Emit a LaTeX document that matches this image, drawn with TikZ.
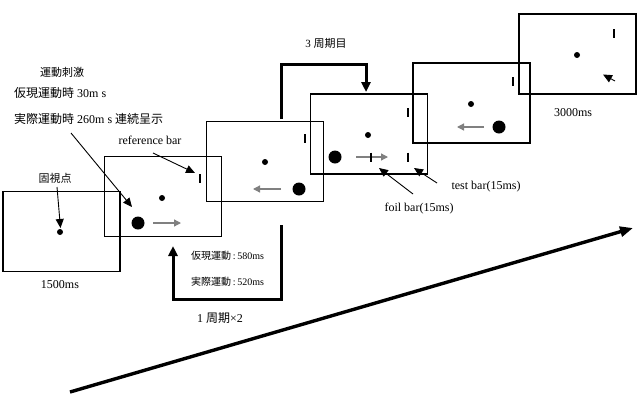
\documentclass[tikz,border=0pt]{standalone}
\usepackage{fontspec}
\setmainfont{Liberation Serif}
\newfontfamily\cjk{Noto Sans CJK JP}
\usetikzlibrary{arrows.meta}
\tikzset{
  frame/.style={draw, line width=1.3pt, minimum width=117pt, minimum height=80pt, inner sep=0pt},
  lbl/.style={inner sep=0pt, font=\fontsize{12}{14}\selectfont},
  lbls/.style={inner sep=0pt, font=\fontsize{11}{13}\selectfont},
  lblx/.style={inner sep=0pt, font=\fontsize{10}{12}\selectfont},
  dotsmall/.style={circle, fill, inner sep=0pt, minimum size=6pt},
  dotbig/.style={circle, fill, inner sep=0pt, minimum size=13pt},
  barline/.style={line width=2.2pt},
  grayarrow/.style={draw=gray, line width=1.3pt, -{Triangle[length=7pt,width=7pt]}},
  pointer/.style={line width=0.9pt, -{Triangle[length=9pt,width=8pt]}},
  looparrow/.style={line width=3pt, line join=miter, -{Triangle[length=10pt,width=9pt]}},
  bigarrow/.style={line width=3.4pt, -{Triangle[length=13pt,width=10pt]}}
}
\begin{document}
\begin{tikzpicture}[x=1pt,y=-1pt]
\useasboundingbox (0,0) rectangle (639,402);
% frames
\node[frame] (box1) at (61.5,231.5) {};
\node[frame] (box2) at (163,196.5) {};
\node[frame] (box3) at (265,161.5) {};
\node[frame] (box4) at (369,134) {};
\node[frame] (box5) at (471.5,103) {};
\node[frame] (box6) at (577.5,54) {};
% box1
\node[dotsmall] (fix1) at (60,232) {};
% box2
\node[dotsmall] (fix2) at (162,198) {};
\node[dotbig] (ball2) at (138,223) {};
\coordinate (g2a) at (153,223); \coordinate (g2b) at (181,223);
\draw[grayarrow] (g2a) -- (g2b);
\coordinate (rb2a) at (200,174); \coordinate (rb2b) at (200,183);
\draw[barline] (rb2a) -- (rb2b);
% box3
\node[dotsmall] (fix3) at (265,162) {};
\node[dotbig] (ball3) at (299,189) {};
\coordinate (g3a) at (281,189); \coordinate (g3b) at (253,189);
\draw[grayarrow] (g3a) -- (g3b);
\coordinate (rb3a) at (305,134); \coordinate (rb3b) at (305,143);
\draw[barline] (rb3a) -- (rb3b);
% box4
\node[dotsmall] (fix4) at (368,135) {};
\node[dotbig] (ball4) at (335,157) {};
\coordinate (g4a) at (356,157); \coordinate (g4b) at (388,157);
\draw[grayarrow] (g4a) -- (g4b);
\coordinate (fb4a) at (371,152.5); \coordinate (fb4b) at (371,161.5);
\draw[barline] (fb4a) -- (fb4b);
\coordinate (tb4a) at (408,152.5); \coordinate (tb4b) at (408,161.5);
\draw[barline] (tb4a) -- (tb4b);
\coordinate (rb4a) at (408,108); \coordinate (rb4b) at (408,117);
\draw[barline] (rb4a) -- (rb4b);
% box5
\node[dotsmall] (fix5) at (471,104) {};
\node[dotbig] (ball5) at (499,127) {};
\coordinate (g5a) at (484,127); \coordinate (g5b) at (457,127);
\draw[grayarrow] (g5a) -- (g5b);
\coordinate (rb5a) at (513,77); \coordinate (rb5b) at (513,86);
\draw[barline] (rb5a) -- (rb5b);
% box6
\node[dotsmall] (fix6) at (577,55) {};
\coordinate (rb6a) at (614,29); \coordinate (rb6b) at (614,38);
\draw[barline] (rb6a) -- (rb6b);
\coordinate (cur6a) at (615,81); \coordinate (cur6b) at (603,74.5);
\draw[line width=0.9pt, -{Triangle[length=9pt,width=8pt]}] (cur6a) -- (cur6b);
% labels
\node[lbls] (tstim) at (62,72) {\cjk 運動刺激};
\node[lbl, anchor=west] (tapp) at (14,93) {{\cjk 仮現運動時} 30m s};
\node[lbl, anchor=west] (treal) at (14,119) {{\cjk 実際運動時} 260m s {\cjk 連続呈示}};
\node[lbl] (tref) at (150,140) {reference bar};
\node[lbls] (tfix) at (55,178) {\cjk 固視点};
\node[lbl] (t1500) at (60,285) {1500ms};
\node[lbl] (t3000) at (573,113) {3000ms};
\node[lbls] (t3rd) at (326,43) {3 {\cjk 周期目}};
\node[lbl] (ttest) at (486,187) {test bar(15ms)};
\node[lbl] (tfoil) at (419,209) {foil bar(15ms)};
\node[lblx, anchor=west] (tapp2) at (191,256) {{\cjk 仮現運動}\,:\,580ms};
\node[lblx, anchor=west] (treal2) at (191,282) {{\cjk 実際運動}\,:\,520ms};
\node[lbl] (tcyc) at (220,318) {1 {\cjk 周期}×2};
% pointer arrows
\coordinate (pa1) at (71,133); \coordinate (pa2) at (132,207);
\draw[pointer] (pa1) -- (pa2);
\coordinate (pr1) at (153,153); \coordinate (pr2) at (195,173);
\draw[pointer] (pr1) -- (pr2);
\coordinate (pf1) at (57,187); \coordinate (pf2) at (60.5,228);
\draw[pointer] (pf1) -- (pf2);
\coordinate (pfo1) at (413,194); \coordinate (pfo2) at (379,168);
\draw[pointer] (pfo1) -- (pfo2);
\coordinate (pt1) at (437,183); \coordinate (pt2) at (414,168);
\draw[pointer] (pt1) -- (pt2);
% loop arrows
\coordinate (c2a) at (281,225); \coordinate (c2b) at (281,299);
\coordinate (c2c) at (173,299); \coordinate (c2d) at (173,246);
\draw[looparrow] (c2a) -- (c2b) -- (c2c) -- (c2d);
\coordinate (c3a) at (281,119); \coordinate (c3b) at (281,64);
\coordinate (c3c) at (366,64); \coordinate (c3d) at (366,92);
\draw[looparrow] (c3a) -- (c3b) -- (c3c) -- (c3d);
% time arrow
\coordinate (ta) at (70,392); \coordinate (tb) at (633,228);
\draw[bigarrow] (ta) -- (tb);
\end{tikzpicture}
\end{document}
